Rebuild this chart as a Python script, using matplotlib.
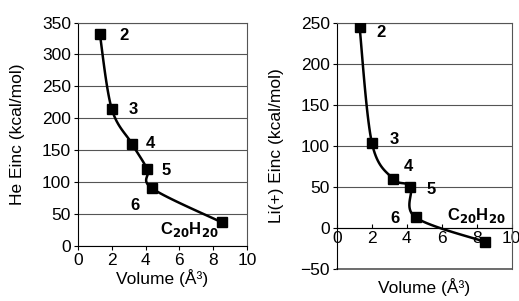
import numpy as np
import matplotlib.pyplot as plt

plt.rcParams['font.family'] = ['Liberation Sans', 'DejaVu Sans']

# left panel: He
he_vol = [1.3, 2.0, 3.2, 4.1, 4.4, 8.5]
he_einc = [332, 215, 160, 120, 90, 37]
he_labels = ['2', '3', '4', '5', '6', r'C$_{\mathbf{20}}$H$_{\mathbf{20}}$']
he_label_pos = [(2.7, 330), (3.3, 213), (4.3, 160), (5.2, 118), (3.4, 63), (6.6, 25)]

# right panel: Li(+)
li_vol = [1.3, 2.0, 3.2, 4.2, 4.5, 8.5]
li_einc = [245, 104, 60, 50, 13, -17]
li_labels = ['2', '3', '4', '5', '6', r'C$_{\mathbf{20}}$H$_{\mathbf{20}}$']
li_label_pos = [(2.5, 238), (3.3, 108), (4.1, 75), (5.4, 47), (3.3, 12), (8.0, 15)]


def smooth(x, y, n=20):
    # Excel-style smoothed line (Catmull-Rom bezier through the points)
    x = np.asarray(x, float)
    y = np.asarray(y, float)
    px = np.concatenate([[x[0]], x, [x[-1]]])
    py = np.concatenate([[y[0]], y, [y[-1]]])
    xs, ys = [], []
    t = np.linspace(0, 1, n)
    for i in range(1, len(px) - 2):
        p0 = np.array([px[i], py[i]])
        p3 = np.array([px[i + 1], py[i + 1]])
        p1 = p0 + (np.array([px[i + 1], py[i + 1]]) - np.array([px[i - 1], py[i - 1]])) / 6
        p2 = p3 - (np.array([px[i + 2], py[i + 2]]) - np.array([px[i], py[i]])) / 6
        b = ((1 - t) ** 3)[:, None] * p0 + (3 * (1 - t) ** 2 * t)[:, None] * p1 \
            + (3 * (1 - t) * t ** 2)[:, None] * p2 + (t ** 3)[:, None] * p3
        xs.extend(b[:, 0])
        ys.extend(b[:, 1])
    return xs, ys


fs = 12.5
fig = plt.figure(figsize=(5.19, 3.01), dpi=100)
ax1 = fig.add_axes([0.150, 0.183, 0.326, 0.742])
ax2 = fig.add_axes([0.649, 0.106, 0.337, 0.819])

for ax, vol, einc, labels, lpos in [(ax1, he_vol, he_einc, he_labels, he_label_pos),
                                      (ax2, li_vol, li_einc, li_labels, li_label_pos)]:
    sx, sy = smooth(vol, einc)
    ax.plot(sx, sy, color='black', lw=1.8, zorder=3)
    ax.plot(vol, einc, 's', color='black', ms=6.5, zorder=4)
    for lab, (lx, ly) in zip(labels, lpos):
        ax.text(lx, ly, lab, fontsize=12, fontweight='bold', ha='center', va='center', zorder=5)
    ax.set_xlim(0, 10)
    ax.set_xticks([0, 2, 4, 6, 8, 10])
    ax.grid(axis='y', color='#555555', lw=0.8)
    ax.set_axisbelow(True)
    ax.tick_params(labelsize=fs, direction='out', length=3, width=0.8, pad=2)
    for s in ax.spines.values():
        s.set_linewidth(0.8)
    ax.spines['top'].set_color('#555555')
    ax.spines['right'].set_color('#555555')
    ax.set_xlabel('Volume (Å³)', fontsize=fs, labelpad=1)

ax1.set_ylim(0, 350)
ax1.set_yticks(range(0, 351, 50))
ax1.set_ylabel('He Einc (kcal/mol)', fontsize=fs)
ax1.yaxis.set_label_coords(-0.31, 0.5)

ax2.set_ylim(-50, 250)
ax2.set_yticks(range(-50, 251, 50))
ax2.spines['bottom'].set_position(('data', 0))
ax2.tick_params(axis='x', direction='in')
ax2.axhline(-50, color='#555555', lw=1.2, clip_on=False)
ax2.set_ylabel('Li(+) Einc (kcal/mol)', fontsize=fs)
ax2.yaxis.set_label_coords(-0.30, 0.5)
ax2.xaxis.set_label_coords(0.5, -0.035)

fig.savefig('out.png', dpi=100)
